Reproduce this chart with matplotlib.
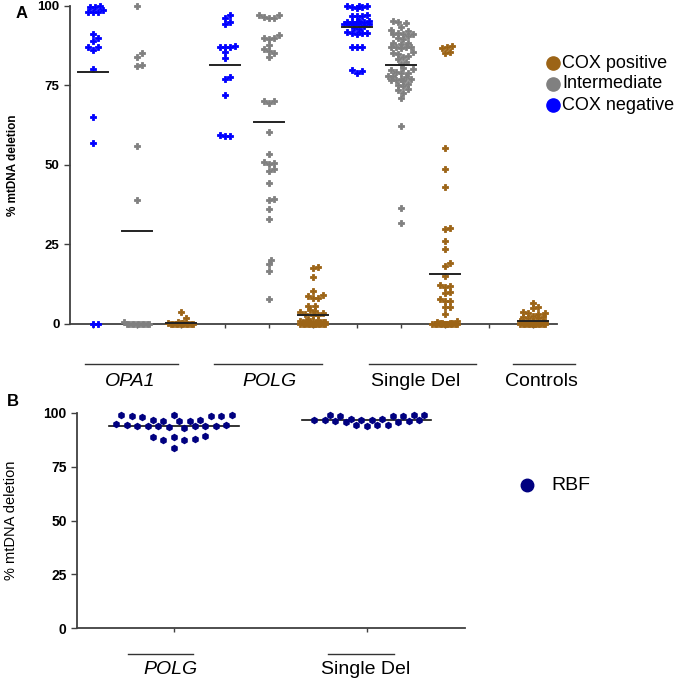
import matplotlib
matplotlib.use('Agg')
import matplotlib.pyplot as plt
import numpy as np
from matplotlib.lines import Line2D

plt.rcParams['font.family'] = ['Liberation Sans', 'DejaVu Sans']

# ---------------- data: panel A ----------------
groups_A = ['OPA1', 'POLG', 'Single Del', 'Controls']
group_italic = [True, True, False, False]
legend_A = ['COX positive', 'Intermediate', 'COX negative']

opa1_neg = [100, 99.5, 99.5, 98, 98, 98, 98.5, 91, 90, 89, 87, 87, 86, 80, 65, 57, 0, 0]
opa1_int = [100, 85, 84, 81.5, 81, 56, 39, 0.6, 0, 0, 0, 0, 0, 0, 0, 0, 0, 0]
opa1_pos = [3.7, 1.8, 0.5, 0.3, 0.2, 0.2, 0.1, 0.1, 0, 0, 0, 0, 0, 0, 0, 0]

polg_neg = [97, 96.2, 94.8, 94.2, 87.4, 87.1, 87.1, 87.1, 85.3, 83.5, 77.7, 77,
            72, 59.4, 59.2, 59.2]
polg_int = [97, 96.5, 96, 96, 97, 90.8, 89.7, 89.4, 90, 87.6, 85.9, 85.2, 86.3,
            84, 70.2, 69.3, 70.2, 60.2, 53.3, 51, 50.2, 50.7, 48.6, 48.2, 44.2,
            39.2, 39, 36, 32.9, 20.1, 18.7, 16.6, 7.9]
polg_pos = [18, 17.5, 14.7, 10.4, 9.1, 8.9, 8.1, 8.1, 5.8, 5.7, 4.4, 4.1, 3.9,
            3.6, 3.0, 2.8, 2.8, 1.5, 1.2, 1.0, 0.8, 0.6, 0.5, 0.5, 0.4, 0.3, 0.3,
            0.2, 0.2, 0.1, 0.1, 0, 0, 0, 0, 0, 0, 0, 0, 0, 0, 0, 0, 0, 0, 0, 0,
            0, 0, 0]

sd_neg = [100, 99.7, 99.2, 99.7, 99.9, 100, 97, 96.9, 96.9, 96.9, 95, 95, 95,
          95.3, 95.3, 95, 94.2, 94.2, 94.2, 94.4, 94.2, 93.5, 92.6, 92.9, 91.6,
          91.3, 91.1, 91.3, 91.5, 86.9, 86.9, 86.9, 79.8, 79, 79.6]
sd_int = [94.5, 94.8, 95.1, 93.4, 92.1, 92.4, 91, 90.5, 91, 91.3, 91, 89.7, 89.4,
          88.2, 88, 88.2, 87.1, 86.9, 86.6, 87.1, 86.9, 85, 85.5, 84.8, 84, 83.1,
          84.2, 82.4, 81.7, 80.3, 79.8, 80.1, 79, 79, 79.3, 77.9, 77.9, 77.5,
          76.9, 76.6, 76.4, 76.6, 76.9, 75.1, 74.8, 75.4, 73.7, 73.5, 72.5, 71.1,
          62.2, 36.6, 31.6]
sd_pos = [87.1, 86.6, 87.3, 85.2, 85.5, 55.2, 48.6, 42.9, 29.8, 30.3, 26.2, 23.5,
          19.1, 18.3, 15.1, 11.5, 12.3, 11.9, 9.8, 10.2, 7.2, 7.3, 7.7, 5.4, 5.4,
          3.1, 1.0, 0.5, 0.4, 0.3, 0.2, 0.2, 0.1, 0.1, 0, 0, 0, 0, 0, 0, 0, 0, 0,
          0, 0, 0, 0, 0, 0, 0, 0, 0, 0]
ctrl_pos = [6.7, 5.4, 5.1, 3.9, 3.4, 3.6, 3.1, 2.3, 2.5, 1.8, 2.3, 1.8, 1.0, 0.8,
            0.6, 0.5, 0.5, 0.4, 0.3, 0.3, 0.2, 0.2, 0.1, 0.1, 0, 0, 0, 0, 0, 0,
            0, 0, 0, 0, 0, 0, 0, 0, 0, 0, 0, 0, 0, 0, 0, 0, 0, 0]

# ---------------- data: panel B ----------------
groups_B = ['POLG', 'Single Del']
polg_rbf = [99.2, 98.8, 98.4, 98.1, 98.4, 99.2, 99.2, 96.1, 96.6, 96.1, 96.1,
            96.6, 94.6, 94.1, 94.1, 93.8, 93.5, 93.8, 94.1, 94.1, 94.6, 95.0,
            93.0, 87.9, 88.8, 88.8, 87.6, 89.1, 87.6, 83.7]
sd_rbf = [96.9, 96.6, 96.1, 96.4, 96.6, 99.2, 99.0, 98.4, 98.4, 98.4, 99.2, 95.8,
          96.9, 97.2, 96.9, 97.2, 95.8, 94.6, 93.8, 94.6, 94.6]

C_POS = '#9C6416'
C_INT = '#808080'
C_NEG = '#0000FF'
C_RBF = '#000080'

W, H = 685, 682
fig = plt.figure(figsize=(W / 100, H / 100), dpi=100)


def fx(px):
    return px / W


def fy(py):
    return 1 - py / H


def swarm(ax, center, values, d, maxw):
    tr = ax.transData
    inv = tr.inverted()
    cx = tr.transform((center, 0))[0]
    ys = [tr.transform((center, v))[1] for v in values]
    order = sorted(range(len(values)), key=lambda i: values[i])
    step = d / 2.0
    cands = [0.0]
    k = 1
    while k * step <= maxw:
        cands += [k * step, -k * step]
        k += 1
    placed = []
    xs = [center] * len(values)
    for i in order:
        y = ys[i]
        best = None
        bestc, bestscore = 0.0, -1
        for c in cands:
            md = min([np.hypot(c - px, y - py) for px, py in placed] or [1e9])
            if md >= d * 0.999:
                best = c
                break
            if md > bestscore:
                bestscore, bestc = md, c
        if best is None:
            best = bestc
        placed.append((best, y))
        xs[i] = inv.transform((cx + best, y))[0]
    return xs


def style_axes(ax, fs):
    for s in ['top', 'right']:
        ax.spines[s].set_visible(False)
    for s in ['left', 'bottom']:
        ax.spines[s].set_color('#404040')
        ax.spines[s].set_linewidth(1.3)
    ax.tick_params(axis='both', colors='#404040', width=1.0, length=4,
                   direction='out')
    ax.tick_params(axis='x', length=3)
    for lab in ax.get_yticklabels():
        lab.set_fontweight('bold')
        lab.set_fontsize(fs)
        lab.set_color('black')


# ---------------- panel A ----------------
axA_l, axA_r = 70, 557
axA = fig.add_axes([fx(axA_l), fy(324), fx(axA_r) - fx(axA_l), fy(5.7) - fy(324)])
axA.set_xlim(0.48, 11.55)
axA.set_ylim(0, 100)
axA.set_yticks([0, 25, 50, 75, 100])
axA.set_xticks(range(1, 12))
axA.set_xticklabels([])
style_axes(axA, 9.5)
axA.set_ylabel('% mtDNA deletion', fontsize=8.5, fontweight='bold')
axA.yaxis.set_label_coords((19 - axA_l) / (axA_r - axA_l), 0.5)

seriesA = [(1, opa1_neg, C_NEG), (2, opa1_int, C_INT), (3, opa1_pos, C_POS),
           (4, polg_neg, C_NEG), (5, polg_int, C_INT), (6, polg_pos, C_POS),
           (7, sd_neg, C_NEG), (8, sd_int, C_INT), (9, sd_pos, C_POS),
           (11, ctrl_pos, C_POS)]
for xpos, vals, col in seriesA:
    xs = swarm(axA, xpos, vals, 5.0, 13)
    axA.plot(xs, vals, linestyle='none', marker='P', ms=4.6, color=col,
             mec=col, mew=0.6, clip_on=False, zorder=3)
    m = np.mean(vals)
    axA.plot([xpos - 0.34, xpos + 0.34], [m, m], color='#222222', lw=1.4,
             zorder=4, clip_on=False)

fig.text(fx(22), fy(13), 'A', fontsize=12, fontweight='bold', ha='center',
         va='center')

# group labels under panel A
labA = [(85, 178, 130), (214, 322, 269), (369, 476, 416), (513, 575, 541)]
for (x0, x1, xc), name, it in zip(labA, groups_A, group_italic):
    fig.add_artist(Line2D([fx(x0), fx(x1)], [fy(364), fy(364)], color='#333333',
                          lw=1.0, transform=fig.transFigure))
    fig.text(fx(xc), fy(382), name, fontsize=14, ha='center', va='center',
             style='italic' if it else 'normal')

# legend A
for i, (name, col) in enumerate(zip(legend_A, [C_POS, C_INT, C_NEG])):
    yy = 63 + i * 21
    fig.add_artist(Line2D([fx(553)], [fy(yy)], marker='o', ms=9.5, color=col,
                          linestyle='none', transform=fig.transFigure))
    fig.text(fx(562), fy(yy), name, fontsize=13, ha='left', va='center')

# ---------------- panel B ----------------
axB_l, axB_r = 77, 465
axB = fig.add_axes([fx(axB_l), fy(628), fx(axB_r) - fx(axB_l), fy(413) - fy(628)])
axB.set_xlim(0.497, 2.51)
axB.set_ylim(0, 100)
axB.set_yticks([0, 25, 50, 75, 100])
axB.set_xticks([1, 2])
axB.set_xticklabels([])
style_axes(axB, 10)
axB.set_ylabel('% mtDNA deletion', fontsize=10.5)
axB.yaxis.set_label_coords((18 - axB_l) / (axB_r - axB_l), 0.5)

for xpos, vals in [(1, polg_rbf), (2, sd_rbf)]:
    xs = swarm(axB, xpos, vals, 10.5, 62)
    m = np.mean(vals)
    axB.plot([xpos - 0.335, xpos + 0.335], [m, m], color='#111111', lw=1.2,
             zorder=2)
    axB.plot(xs, vals, linestyle='none', marker='h', ms=4.3, color=C_RBF,
             clip_on=False, zorder=3)

fig.text(fx(13), fy(402), 'B', fontsize=12, fontweight='bold', ha='center',
         va='center')

labB = [(128, 193, 170), (328, 394, 366)]
for (x0, x1, xc), name, it in zip(labB, groups_B, [True, False]):
    fig.add_artist(Line2D([fx(x0), fx(x1)], [fy(654), fy(654)], color='#333333',
                          lw=1.0, transform=fig.transFigure))
    fig.text(fx(xc), fy(669), name, fontsize=14, ha='center', va='center',
             style='italic' if it else 'normal')

fig.add_artist(Line2D([fx(527)], [fy(485)], marker='o', ms=9, color=C_RBF,
                      linestyle='none', transform=fig.transFigure))
fig.text(fx(551), fy(485), 'RBF', fontsize=14, ha='left', va='center')

fig.savefig('out.png', dpi=100)
